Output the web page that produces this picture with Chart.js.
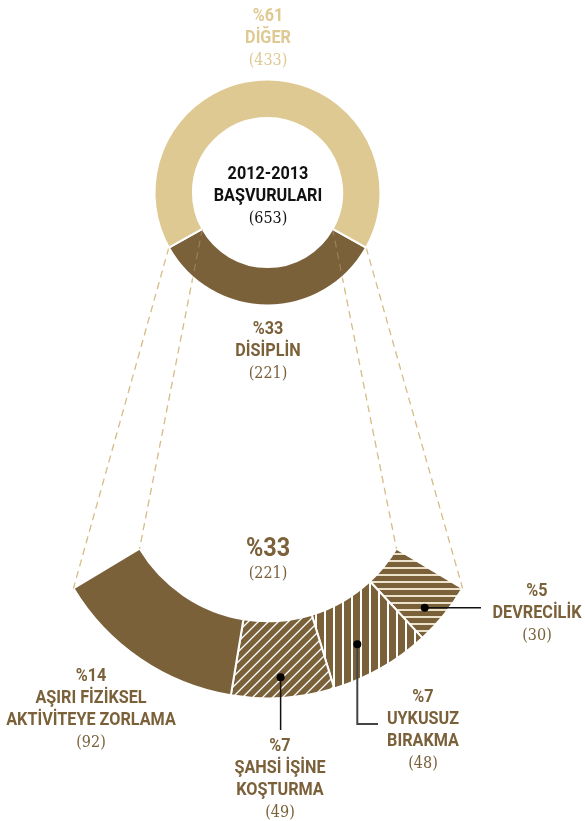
<!DOCTYPE html>
<html lang="tr">
<head>
<meta charset="utf-8">
<title>2012-2013 Başvuruları</title>
<script src="https://cdn.jsdelivr.net/npm/chart.js@4/dist/chart.umd.min.js"></script>
<style>
  body { margin: 0; background: #fff; }
  #wrap { position: relative; width: 585px; height: 821px; overflow: hidden; }
  #wrap canvas { position: absolute; left: 0; top: 0; }
  .lbl {
    position: absolute; transform: translateX(-50%) scaleX(0.9); text-align: center; white-space: nowrap;
    font-family: Roboto, "DejaVu Sans Condensed", sans-serif;
    font-weight: bold; font-size: 18px; line-height: 22px; color: #7a613a;
  }
  .lbl .n { font-family: "DejaVu Serif", "Liberation Serif", serif; font-weight: normal; font-size: 16px; }
  .tan { color: #dfc993; }
  .dark { color: #111; }
  .big { font-size: 26px; line-height: 26px; }
</style>
</head>
<body>
<div id="wrap">
  <canvas id="detail" width="585" height="821"></canvas>
  <canvas id="main" width="585" height="821"></canvas>

  <div class="lbl tan" style="left:268px; top:4px">%61<br>DİĞER<br><span class="n">(433)</span></div>
  <div class="lbl dark" style="left:268px; top:162px">2012-2013<br>BAŞVURULARI<br><span class="n">(653)</span></div>
  <div class="lbl" style="left:268px; top:317px">%33<br>DİSİPLİN<br><span class="n">(221)</span></div>
  <div class="lbl" style="left:268px; top:534px"><span class="big">%33</span><br><span class="n">(221)</span></div>

  <div class="lbl" style="left:537px; top:579px">%5<br>DEVRECİLİK<br><span class="n">(30)</span></div>
  <div class="lbl" style="left:423px; top:685px">%7<br>UYKUSUZ<br>BIRAKMA<br><span class="n">(48)</span></div>
  <div class="lbl" style="left:280px; top:734px">%7<br>ŞAHSİ İŞİNE<br>KOŞTURMA<br><span class="n">(49)</span></div>
  <div class="lbl" style="left:91px; top:664px">%14<br>AŞIRI FİZİKSEL<br>AKTİVİTEYE ZORLAMA<br><span class="n">(92)</span></div>
</div>

<script>
// data
const mainLabels = ['DİSİPLİN', 'DİĞER'];
const mainValues = [221, 433];

const detailLabels = ['DEVRECİLİK', 'UYKUSUZ BIRAKMA', 'ŞAHSİ İŞİNE KOŞTURMA', 'AŞIRI FİZİKSEL AKTİVİTEYE ZORLAMA'];
const detailValues = [30, 48, 49, 92];

const BROWN = '#7a613a';
const TAN = '#dfc993';

// hatch fills
function makePattern(kind) {
    const c = document.createElement('canvas');
    const g = c.getContext('2d');
    if (kind === 'diag') {
        c.width = 10; c.height = 10;
        g.fillStyle = BROWN; g.fillRect(0, 0, 10, 10);
        g.strokeStyle = '#fff'; g.lineWidth = 1.3;
        g.beginPath();
        g.moveTo(-5, 5); g.lineTo(5, -5);
        g.moveTo(0, 10); g.lineTo(10, 0);
        g.moveTo(5, 15); g.lineTo(15, 5);
        g.stroke();
    } else if (kind === 'vert') {
        c.width = 9; c.height = 4;
        g.fillStyle = BROWN; g.fillRect(0, 0, 9, 4);
        g.fillStyle = '#fff'; g.fillRect(0, 0, 2, 4);
    } else {
        c.width = 4; c.height = 7;
        g.fillStyle = BROWN; g.fillRect(0, 0, 4, 7);
        g.fillStyle = '#ece2cc'; g.fillRect(0, 0, 4, 2);
    }
    return g.createPattern(c, 'repeat');
}

const dctx = document.getElementById('detail').getContext('2d');
const mctx = document.getElementById('main').getContext('2d');

const totalMain = mainValues.reduce((a, b) => a + b, 0);
const sliceDeg = mainValues[0] / totalMain * 360;   // angle of DİSİPLİN
const startDeg = 180 - sliceDeg / 2;                 // centred at the bottom
const detailSpan = 118;                              // opening of the lower arc

// dots + leader lines for the small slices
const leaders = {
    id: 'leaders',
    afterDatasetsDraw(chart) {
        const arcs = chart.getDatasetMeta(0).data;
        const ctx = chart.ctx;
        const pt = (a, radFrac, angFrac) => {
            const ang = a.startAngle + angFrac * (a.endAngle - a.startAngle);
            const r = a.innerRadius + radFrac * (a.outerRadius - a.innerRadius);
            return [a.x + Math.cos(ang) * r, a.y + Math.sin(ang) * r];
        };
        const p0 = pt(arcs[0], 0.75, 0.62);
        const p1 = pt(arcs[1], 0.58, 0.6);
        const p2 = pt(arcs[2], 0.73, 0.51);
        ctx.save();
        ctx.strokeStyle = '#111'; ctx.lineWidth = 1.5;
        ctx.beginPath();
        ctx.moveTo(p0[0], p0[1]); ctx.lineTo(481, p0[1]);
        ctx.moveTo(p2[0], p2[1]); ctx.lineTo(p2[0], 730);
        ctx.stroke();
        ctx.strokeStyle = '#444'; ctx.lineWidth = 2;
        ctx.beginPath();
        ctx.moveTo(p1[0], p1[1]); ctx.lineTo(p1[0], 724); ctx.lineTo(378, 724);
        ctx.stroke();
        ctx.fillStyle = '#000';
        [p0, p1, p2].forEach(p => { ctx.beginPath(); ctx.arc(p[0], p[1], 4, 0, Math.PI * 2); ctx.fill(); });
        ctx.restore();
    }
};

const detailChart = new Chart(dctx, {
    type: 'doughnut',
    data: {
        labels: detailLabels,
        datasets: [{
            data: detailValues,
            backgroundColor: [makePattern('horiz'), makePattern('vert'), makePattern('diag'), BROWN],
            borderColor: '#fff',
            borderWidth: 2
        }]
    },
    options: {
        responsive: false,
        animation: false,
        rotation: 180 - detailSpan / 2,
        circumference: detailSpan,
        cutout: '66%',
        radius: 227,
        layout: { padding: { left: 0, right: 49, top: 426, bottom: 0 } },
        plugins: { legend: { display: false }, tooltip: { enabled: false } }
    },
    plugins: [leaders]
});

// dashed guides from the DİSİPLİN slice down to the detail arc
function guideLines(chart, alpha) {
    const a = chart.getDatasetMeta(0).data[0];
    const b = detailChart.getDatasetMeta(0).data;
    const first = b[0], last = b[b.length - 1];
    const p = (el, ang, r) => [el.x + Math.cos(ang) * r, el.y + Math.sin(ang) * r];
    const segs = [
        [p(a, a.startAngle, a.outerRadius), p(first, first.startAngle, first.outerRadius)],
        [p(a, a.startAngle, a.innerRadius), p(first, first.startAngle, first.innerRadius)],
        [p(a, a.endAngle, a.outerRadius), p(last, last.endAngle, last.outerRadius)],
        [p(a, a.endAngle, a.innerRadius), p(last, last.endAngle, last.innerRadius)]
    ];
    const ctx = chart.ctx;
    ctx.save();
    ctx.globalAlpha = alpha;
    ctx.strokeStyle = '#d6bd86'; ctx.lineWidth = 1.2;
    ctx.setLineDash([7, 5]);
    ctx.beginPath();
    segs.forEach(s => { ctx.moveTo(s[0][0], s[0][1]); ctx.lineTo(s[1][0], s[1][1]); });
    ctx.stroke();
    ctx.restore();
}

const guides = {
    id: 'guides',
    beforeDatasetsDraw(chart) { guideLines(chart, 1); },
    afterDatasetsDraw(chart) { guideLines(chart, 0.35); }
};

const mainChart = new Chart(mctx, {
    type: 'doughnut',
    data: {
        labels: mainLabels,
        datasets: [{
            data: mainValues,
            backgroundColor: [BROWN, TAN],
            borderColor: '#fff',
            borderWidth: 2
        }]
    },
    options: {
        responsive: false,
        animation: false,
        rotation: startDeg,
        cutout: '66%',
        radius: 113,
        layout: { padding: { left: 0, right: 50, top: 0, bottom: 436 } },
        plugins: { legend: { display: false }, tooltip: { enabled: false } }
    },
    plugins: [guides]
});
</script>
</body>
</html>
